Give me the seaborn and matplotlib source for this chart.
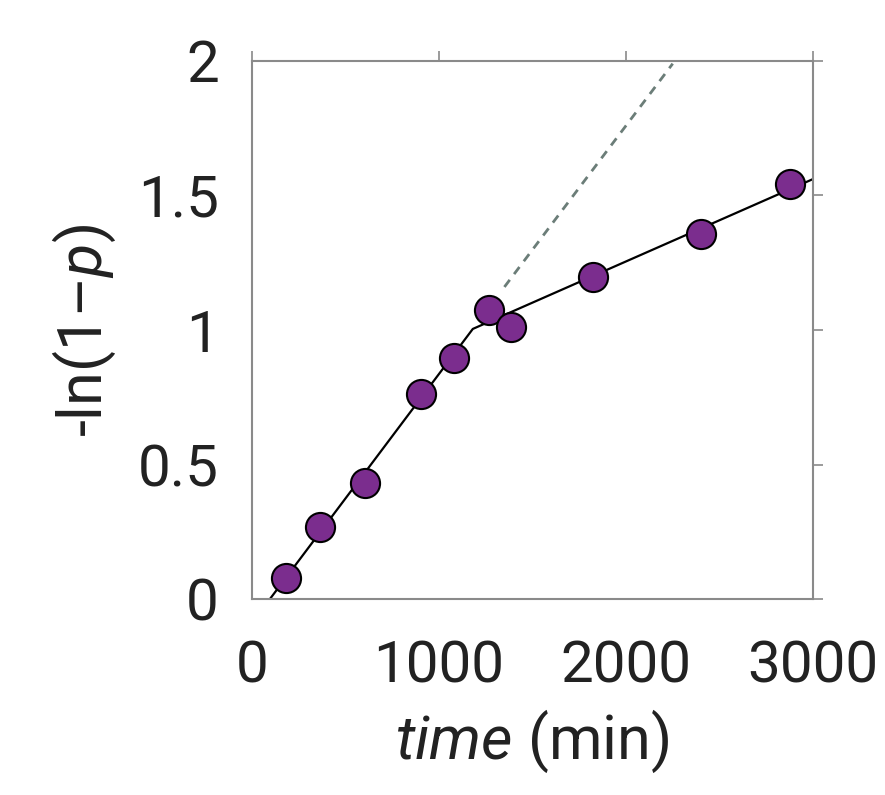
import matplotlib
matplotlib.use("Agg")
import matplotlib.pyplot as plt
from matplotlib import font_manager
import seaborn as sns
import pandas as pd

# measured points
time_min = [182, 363, 604, 903, 1080, 1267, 1384, 1822, 2400, 2876]
neg_ln = [0.078, 0.268, 0.431, 0.762, 0.896, 1.074, 1.011, 1.197, 1.357, 1.543]

# two-stage linear fit (solid) and extension of first stage (dashed)
fit_t = [96, 1181, 3000]
fit_y = [0.0, 1.004, 1.561]
ext_t = [1350, 2250]
ext_y = [1.16, 1.99]

x_ticks = [0, 1000, 2000, 3000]
y_ticks = [0, 0.5, 1, 1.5, 2]
y_tick_labels = ["0", "0.5", "1", "1.5", "2"]

sns.set_theme(style="white")
installed = {f.name for f in font_manager.fontManager.ttflist}
if "Liberation Sans Narrow" in installed:
    tick_font, tick_size = "Liberation Sans Narrow", 48
else:
    tick_font, tick_size = "Roboto", 42
plt.rcParams["font.family"] = [tick_font, "DejaVu Sans"]
plt.rcParams["mathtext.fontset"] = "custom"
plt.rcParams["mathtext.rm"] = "Roboto"
plt.rcParams["mathtext.it"] = "Roboto:italic"

pts = pd.DataFrame({"t": time_min, "y": neg_ln})

fig = plt.figure(figsize=(8.85, 7.95), dpi=100)
ax = fig.add_axes([0.2847, 0.2465, 0.6339, 0.6768])

ax.plot(fit_t, fit_y, color="black", lw=1.6, zorder=2)
ax.plot(ext_t, ext_y, color="#6b7d78", lw=2.0, dashes=(3.2, 2.6), zorder=2)
sns.scatterplot(data=pts, x="t", y="y", ax=ax, s=440, color="#7b2d8e",
                edgecolor="black", linewidth=1.5, zorder=3, clip_on=False)

ax.set_xlim(0, 3000)
ax.set_ylim(0, 2)
ax.set_xticks(x_ticks)
ax.set_xticklabels([str(v) for v in x_ticks])
ax.set_yticks(y_ticks)
ax.set_yticklabels(y_tick_labels)

for side in ["left", "right", "top", "bottom"]:
    ax.spines[side].set_visible(True)
    ax.spines[side].set_color("#8a8a8a")
    ax.spines[side].set_linewidth(1.5)

ax.tick_params(axis="both", which="major", direction="out", length=7,
               width=1.2, color="#8a8a8a", labelsize=tick_size,
               labelcolor="#222222",
               top=True, right=True, labeltop=False, labelright=False)
ax.tick_params(axis="x", pad=22)
ax.tick_params(axis="y", pad=17)

ax.set_xlabel(r"$\mathit{time}$ (min)", fontsize=44, family="Roboto",
              color="#222222", labelpad=10)
ax.set_ylabel("-ln(1\u2013$\\mathit{p}$)", fontsize=44, family="Roboto",
              color="#222222", labelpad=14)

fig.savefig("out.png", dpi=100)
